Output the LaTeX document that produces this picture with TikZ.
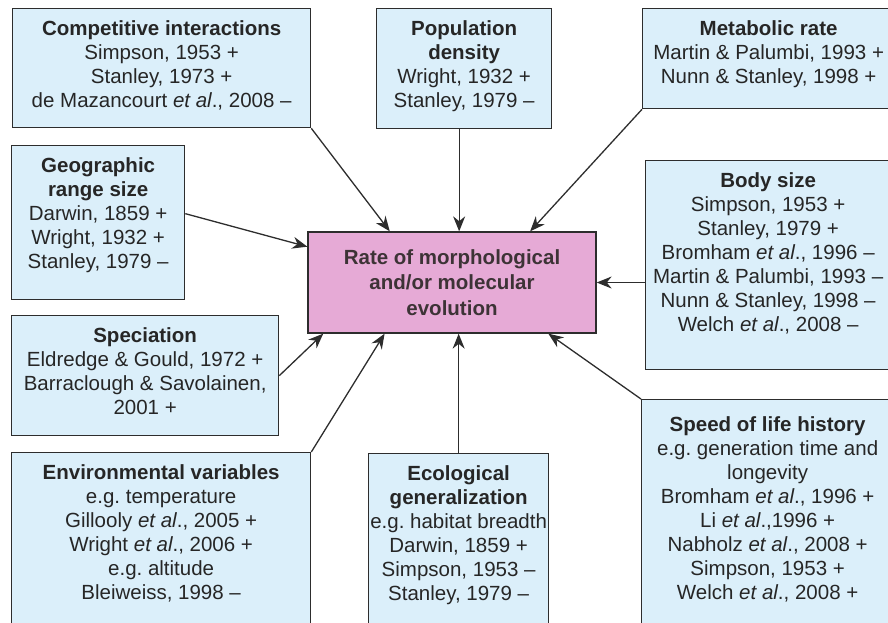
\documentclass[tikz,border=0pt]{standalone}
\usepackage{fontspec}
\setmainfont{Liberation Sans}
\usetikzlibrary{arrows.meta,calc}
\definecolor{boxblue}{RGB}{219,239,250}
\definecolor{ratepink}{RGB}{230,170,214}
\definecolor{edgegray}{RGB}{45,45,45}
\frenchspacing
% text of a factor box: height, width, lines (set from the top)
\newcommand{\boxtxt}[3]{\parbox[c][#1][t]{#2}{\centering\vspace{11.5pt}#3}}
\begin{document}
\begin{tikzpicture}[x=1pt, y=-1pt,
	factor/.style={
		draw=edgegray,
		fill=boxblue,
		line width=1.3pt,
		inner sep=0pt,
		anchor=north west,
		text=black!85,
		font=\fontsize{20.5}{24}\selectfont},
	rate/.style={
		draw=edgegray,
		fill=ratepink,
		line width=1.3pt,
		align=center,
		text=black!80!magenta!60!black,
		font=\bfseries\fontsize{20.5}{25.5}\selectfont},
	link/.style={-{Stealth[length=15pt,width=12pt]}, draw=edgegray, line width=1.3pt}]
	\useasboundingbox (0,0) rectangle (888,622);
	% centre box
	\node[rate, minimum width=288pt, minimum height=101pt] (rate) at (452,282.5)
		{Rate of morphological\\and/or molecular\\evolution};
	% factors round it
	\node[factor] (comp) at (12,8) {\boxtxt{119pt}{298pt}{%
		\textbf{Competitive interactions}\\
		Simpson, 1953 +\\
		Stanley, 1973 +\\
		de Mazancourt \textit{et al}., 2008 –}};
	\node[factor] (pop) at (376,8) {\boxtxt{120pt}{175pt}{%
		\textbf{Population}\\
		\textbf{density}\\
		Wright, 1932 +\\
		Stanley, 1979 –}};
	\node[factor] (met) at (642,8) {\boxtxt{100pt}{252pt}{%
		\textbf{Metabolic rate}\\
		Martin \& Palumbi, 1993 +\\
		Nunn \& Stanley, 1998 +}};
	\node[factor] (geo) at (11,145) {\boxtxt{154pt}{173pt}{%
		\textbf{Geographic}\\
		\textbf{range size}\\
		Darwin, 1859 +\\
		Wright, 1932 +\\
		Stanley, 1979 –}};
	\node[factor] (body) at (645,160) {\boxtxt{209pt}{245pt}{%
		\textbf{Body size}\\
		Simpson, 1953 +\\
		Stanley, 1979 +\\
		Bromham \textit{et al}., 1996 –\\
		Martin \& Palumbi, 1993 –\\
		Nunn \& Stanley, 1998 –\\
		Welch \textit{et al}., 2008 –}};
	\node[factor] (spec) at (11,315) {\boxtxt{120pt}{267pt}{%
		\textbf{Speciation}\\
		Eldredge \& Gould, 1972 +\\
		Barraclough \& Savolainen,\\
		2001 +}};
	\node[factor] (env) at (11,452) {\boxtxt{175pt}{299pt}{%
		\textbf{Environmental variables}\\
		e.g. temperature\\
		Gillooly \textit{et al}., 2005 +\\
		Wright \textit{et al}., 2006 +\\
		e.g. altitude\\
		Bleiweiss, 1998 –}};
	\node[factor] (eco) at (368,453) {\boxtxt{175pt}{180pt}{%
		\textbf{Ecological}\\
		\textbf{generalization}\\
		e.g. habitat breadth\\
		Darwin, 1859 +\\
		Simpson, 1953 –\\
		Stanley, 1979 –}};
	\node[factor] (speed) at (641,399) {\boxtxt{230pt}{252pt}{\vspace{5pt}%
		\textbf{Speed of life history}\\
		e.g. generation time and\\
		longevity\\
		Bromham \textit{et al}., 1996 +\\
		Li \textit{et al}.,1996 +\\
		Nabholz \textit{et al}., 2008 +\\
		Simpson, 1953 +\\
		Welch \textit{et al}., 2008 +}};
	% arrows into the centre box
	\draw[link] (comp.south east) -- ($(rate.north west)!0.285!(rate.north east)$);
	\draw[link] ([xshift=-5pt]pop.south) -- ([xshift=-5pt]pop.south |- rate.north);
	\draw[link] (met.south west) -- ($(rate.north west)!0.77!(rate.north east)$);
	\draw[link] ([yshift=9pt]geo.east) -- ($(rate.north west)!0.15!(rate.south west)$);
	\draw[link] (body.west |- rate.east) -- (rate.east);
	\draw[link] (spec.east) -- ($(rate.south west)!0.055!(rate.south east)$);
	\draw[link] (env.north east) -- ($(rate.south west)!0.267!(rate.south east)$);
	\draw[link] (eco.north) -- (eco.north |- rate.south);
	\draw[link] (speed.north west) -- ($(rate.south west)!0.833!(rate.south east)$);
\end{tikzpicture}
\end{document}
